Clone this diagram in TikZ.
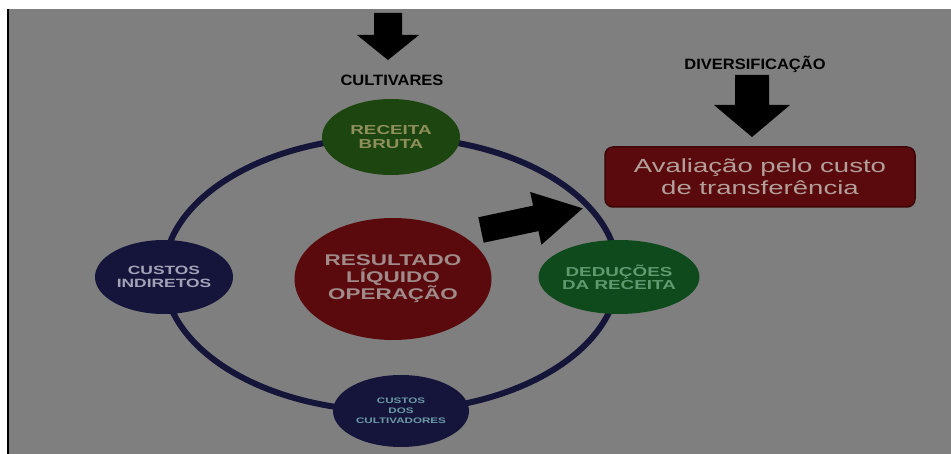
\documentclass[tikz,border=0pt]{standalone}
\usepackage{fontspec}
\setmainfont{Liberation Sans}
\newfontfamily\widefont[FakeStretch=1.45]{Liberation Sans}
\newfontfamily\headfont[FakeStretch=1.1]{Liberation Sans}
\usetikzlibrary{shapes.geometric}

\definecolor{slidegray}{HTML}{7F7F7F}
\definecolor{ringnavy}{HTML}{15153A}
\definecolor{bubblenavy}{HTML}{15153C}
\definecolor{greenA}{HTML}{1D4510}
\definecolor{greenB}{HTML}{0F4A1C}
\definecolor{darkred}{HTML}{5A0A0C}
\definecolor{redrim}{HTML}{3C0606}

\tikzset{
  ring/.style={draw=ringnavy, line width=6pt},
  bubble/.style={ellipse, inner sep=0pt, align=center},
  heading/.style={font=\headfont\bfseries\fontsize{15}{15}\selectfont, text=black, inner sep=0pt},
  pics/blockarrow/.style n args={4}{code={
    \fill (0,-#1) -- (#4-#3,-#1) -- (#4-#3,-#2) -- (#4,0) -- (#4-#3,#2) -- (#4-#3,#1) -- (0,#1) -- cycle;
  }}
}

\begin{document}
\begin{tikzpicture}[x=1pt, y=-1pt]
  \useasboundingbox (0,0) rectangle (951,454);
  \fill[white] (0,0) rectangle (951,454);
  \fill[slidegray] (9,9) rectangle (951,454);
  \draw[black, line width=2pt] (8,9) -- (8,454);

  % ciclo
  \draw[ring] (391,274) ellipse [x radius=227pt, y radius=137pt];

  \node[bubble, fill=greenA, minimum width=138pt, minimum height=76pt, text={rgb,255:red,143;green,143;blue,92},
        font=\widefont\bfseries\fontsize{13}{13.5}\selectfont] (receita) at (391,137) {RECEITA\\BRUTA};
  \node[bubble, fill=bubblenavy, minimum width=138pt, minimum height=74pt, text={rgb,255:red,163;green,163;blue,184},
        font=\widefont\bfseries\fontsize{12}{13}\selectfont] (indiretos) at (164,277) {CUSTOS\\INDIRETOS};
  \node[bubble, fill=darkred, minimum width=197pt, minimum height=122pt, text={rgb,255:red,160;green,138;blue,138},
        font=\widefont\bfseries\fontsize{15.5}{17}\selectfont] (resultado) at (393,279) {RESULTADO\\LÍQUIDO\\OPERAÇÃO};
  \node[bubble, fill=greenB, minimum width=136pt, minimum height=74pt, text={rgb,255:red,94;green,154;blue,112},
        font=\widefont\bfseries\fontsize{13}{13}\selectfont] (deducoes) at (619,277) {DEDUÇÕES\\DA RECEITA};
  \node[bubble, fill=bubblenavy, minimum width=136pt, minimum height=72pt, text={rgb,255:red,106;green,154;blue,168},
        font=\widefont\bfseries\fontsize{8}{10}\selectfont] (cultivadores) at (401,411) {CUSTOS\\DOS\\CULTIVADORES};

  % titulos e setas
  \node[heading] (cultivares) at (392,80) {CULTIVARES};
  \node[heading] (diversificacao) at (755,64) {DIVERSIFICAÇÃO};
  \node[draw=redrim, line width=1.5pt, fill=darkred, rounded corners=8pt, minimum width=310pt, minimum height=60pt,
        align=center, text={rgb,255:red,179;green,159;blue,154}, font=\widefont\fontsize{19}{22}\selectfont]
        (custo) at (760,177) {Avaliação pelo custo\\de transferência};

  \pic[rotate=-90] at (388,13) {blockarrow={14}{31}{25}{47}};
  \pic[rotate=-90] at (752,75) {blockarrow={17}{38}{32}{62}};
  \pic[rotate=12] at (481,230) {blockarrow={13}{27}{48}{104}};
\end{tikzpicture}
\end{document}
